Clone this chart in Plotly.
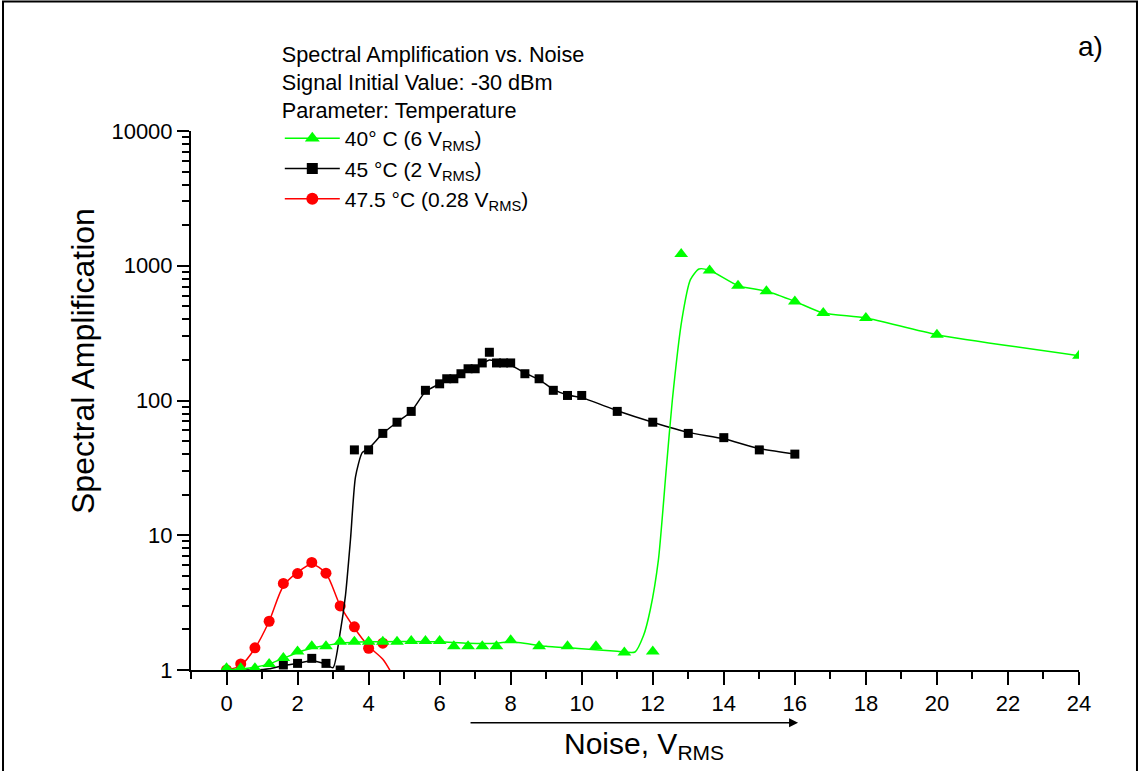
import plotly.graph_objects as go

# ---------------- data ----------------
# 40 °C (6 V_RMS) – measured points
green_x = [0, 0.4, 0.8, 1.2, 1.6, 2.0, 2.4, 2.8, 3.2, 3.6, 4.0, 4.4, 4.8, 5.2, 5.6, 6.0,
           6.4, 6.8, 7.2, 7.6, 8.0, 8.8, 9.6, 10.4, 11.2, 12.0, 12.8, 13.6, 14.4, 15.2,
           16.0, 16.8, 18.0, 20.0, 24.0]
green_y = [1.03, 1.03, 1.03, 1.11, 1.23, 1.37, 1.50, 1.50, 1.62, 1.62, 1.62, 1.62, 1.62, 1.64, 1.64, 1.64,
           1.50, 1.50, 1.50, 1.50, 1.66, 1.50, 1.50, 1.50, 1.35, 1.37, 1220, 923, 711, 646,
           544, 446, 410, 308, 215]
# 40 °C – smoothed curve
green_fit_x = [0, 0.4, 0.8, 1.2, 1.6, 2.0, 2.4, 2.8, 3.2, 4.0, 5.0, 6.0, 6.8, 7.6, 8.0, 9.0,
               10.0, 11.0, 11.5, 11.74, 11.93, 12.16, 12.38, 12.55, 12.82, 13.06, 13.3, 13.6,
               14.4, 15.2, 16.0, 16.8, 18.0, 20.0, 24.0]
green_fit_y = [1.0, 1.02, 1.05, 1.11, 1.22, 1.35, 1.45, 1.52, 1.58, 1.62, 1.63, 1.62, 1.58, 1.58, 1.62, 1.50,
               1.44, 1.38, 1.36, 1.8, 2.8, 6.6, 31, 100, 398, 788, 946, 925,
               711, 646, 544, 446, 410, 308, 215]

# 45 °C (2 V_RMS) – measured points
black_x = [1.6, 2.0, 2.4, 2.8, 3.2, 3.6, 4.0, 4.4, 4.8, 5.2, 5.6, 6.0, 6.2, 6.4, 6.6, 6.8,
           7.0, 7.2, 7.4, 7.6, 7.8, 8.0, 8.4, 8.8, 9.2, 9.6, 10.0, 11.0, 12.0, 13.0,
           14.0, 15.0, 16.0]
black_y = [1.09, 1.12, 1.22, 1.12, 1.0, 43, 43, 57, 69, 83, 119, 133, 145, 145, 158, 172,
           172, 190, 228, 190, 190, 190, 158, 145, 119, 109, 109, 83, 69, 57,
           53, 43, 40]
# 45 °C – smoothed curve
black_fit_x = [0, 0.4, 0.8, 1.2, 1.6, 2.0, 2.4, 2.8, 3.0, 3.2, 3.35, 3.49, 3.63, 3.82, 4.0,
               4.4, 4.8, 5.2, 5.6, 6.0, 6.4, 6.8, 7.2, 7.4, 7.8, 8.0, 8.4, 8.8, 9.2, 9.6,
               10.0, 11.0, 12.0, 13.0, 14.0, 15.0, 16.0]
black_fit_y = [1.0, 1.0, 1.0, 1.02, 1.08, 1.12, 1.17, 1.1, 1.04, 1.9, 3.6, 9.3, 27, 41, 44,
               57, 69, 83, 116, 133, 150, 168, 188, 200, 190, 183, 160, 143, 121, 110,
               105, 84, 69, 58, 52, 44, 40]

# 47.5 °C (0.28 V_RMS) – measured points
red_x = [0, 0.4, 0.8, 1.2, 1.6, 2.0, 2.4, 2.8, 3.2, 3.6, 4.0, 4.4]
red_y = [1.0, 1.11, 1.46, 2.30, 4.39, 5.20, 6.28, 5.23, 2.99, 2.09, 1.45, 1.58]
# 47.5 °C – smoothed curve
red_fit_x = [0, 0.4, 0.8, 1.2, 1.6, 2.0, 2.4, 2.8, 3.2, 3.6, 4.0, 4.4, 4.8]
red_fit_y = [1.0, 1.08, 1.45, 2.3, 4.2, 5.3, 6.1, 5.2, 3.0, 2.05, 1.5, 1.2, 0.8]

legend_names = ["40° C (6 V<sub>RMS</sub>)", "45 °C (2 V<sub>RMS</sub>)", "47.5 °C (0.28 V<sub>RMS</sub>)"]
x_ticks = [0, 2, 4, 6, 8, 10, 12, 14, 16, 18, 20, 22, 24]
x_minor = [-1, 1, 3, 5, 7, 9, 11, 13, 15, 17, 19, 21, 23]
y_ticks = [1, 10, 100, 1000, 10000]
y_ticktext = ["1", "10", "100", "1000", "10000"]
y_minor = [m * d for d in (1, 10, 100, 1000) for m in range(2, 10)]

GREEN = "#00FF00"
RED = "#FF0000"
BLACK = "#000000"
FONT = "Liberation Sans, Arial, sans-serif"

fig = go.Figure()

# data traces (drawn red, black, green)
fig.add_trace(go.Scatter(x=red_fit_x, y=red_fit_y, mode="lines", line=dict(color=RED, width=1.5, shape="spline", smoothing=0.8),
                         showlegend=False, hoverinfo="skip"))
fig.add_trace(go.Scatter(x=red_x, y=red_y, mode="markers", marker=dict(symbol="circle", size=11, color=RED),
                         showlegend=False))
fig.add_trace(go.Scatter(x=black_fit_x, y=black_fit_y, mode="lines", line=dict(color=BLACK, width=1.5, shape="spline", smoothing=0.6),
                         showlegend=False, hoverinfo="skip"))
fig.add_trace(go.Scatter(x=black_x, y=black_y, mode="markers", marker=dict(symbol="square", size=9, color=BLACK),
                         showlegend=False))
fig.add_trace(go.Scatter(x=green_fit_x, y=green_fit_y, mode="lines", line=dict(color=GREEN, width=1.5, shape="spline", smoothing=0.6),
                         showlegend=False, hoverinfo="skip"))
fig.add_trace(go.Scatter(x=green_x, y=green_y, mode="markers", marker=dict(symbol="triangle-up", size=12, color=GREEN),
                         showlegend=False))

# legend entries
for name, col, sym, sz in zip(legend_names, [GREEN, BLACK, RED], ["triangle-up", "square", "circle"], [13, 11, 12]):
    fig.add_trace(go.Scatter(x=[None], y=[None], mode="lines+markers", name=name,
                             line=dict(color=col, width=1.5), marker=dict(symbol=sym, size=sz, color=col)))

fig.update_layout(
    width=1146, height=771,
    margin=dict(l=191, r=67, t=131, b=101),
    paper_bgcolor="white", plot_bgcolor="white",
    font=dict(family=FONT, color="black"),
    legend=dict(
        x=0.1, y=1.181, xanchor="left", yanchor="top",
        bgcolor="rgba(0,0,0,0)", font=dict(size=21, family=FONT, color="black"),
        title=dict(text="Spectral Amplification vs. Noise<br>Signal Initial Value: -30 dBm<br>Parameter: Temperature",
                   font=dict(size=21.7, family=FONT, color="black"), side="top"),
        tracegroupgap=0, itemwidth=55,
    ),
    xaxis=dict(
        range=[-1, 24], tickmode="array", tickvals=x_ticks, ticktext=[str(v) for v in x_ticks],
        ticks="outside", ticklen=13, tickwidth=2, tickcolor="black",
        showline=True, linewidth=2, linecolor="black", showgrid=False, zeroline=False,
        tickfont=dict(size=22, family=FONT, color="black"),
        minor=dict(tickmode="array", tickvals=x_minor, ticks="outside", ticklen=7, tickwidth=2, tickcolor="black", showgrid=False),
    ),
    yaxis=dict(
        type="log", range=[0, 4], tickmode="array", tickvals=y_ticks, ticktext=y_ticktext,
        ticks="outside", ticklen=12, tickwidth=2, tickcolor="black",
        showline=True, linewidth=2, linecolor="black", showgrid=False, zeroline=False,
        tickfont=dict(size=22, family=FONT, color="black"),
        minor=dict(tickmode="array", tickvals=y_minor, ticks="outside", ticklen=7, tickwidth=2, tickcolor="black", showgrid=False),
    ),
)

# axis titles, label, arrow
fig.add_annotation(text="Spectral Amplification", xref="paper", yref="paper", x=-0.1216, y=0.5733,
                   xanchor="center", yanchor="middle", textangle=-90, showarrow=False,
                   font=dict(size=32, family=FONT, color="black"))
fig.add_annotation(text="Noise, V<sub>RMS</sub>", xref="paper", yref="paper", x=0.51, y=-0.102,
                   xanchor="center", yanchor="top", showarrow=False,
                   font=dict(size=30, family=FONT, color="black"))
fig.add_annotation(text="a)", xref="paper", yref="paper", x=1.0135, y=1.156,
                   xanchor="center", yanchor="middle", showarrow=False,
                   font=dict(size=28, family=FONT, color="black"))
fig.add_annotation(text="", xref="paper", yref="paper", x=0.6836, y=-0.0978,
                   ax=-329, ay=0, axref="pixel", ayref="pixel", showarrow=True,
                   arrowhead=2, arrowsize=1.2, arrowwidth=1.5, arrowcolor="black")

# outer frame
fig.add_shape(type="rect", xref="paper", yref="paper", x0=-0.2117, x1=1.0653, y0=-0.3, y1=1.2402,
              line=dict(color="black", width=2), fillcolor="rgba(0,0,0,0)", layer="above")

fig.write_html("out.html")
